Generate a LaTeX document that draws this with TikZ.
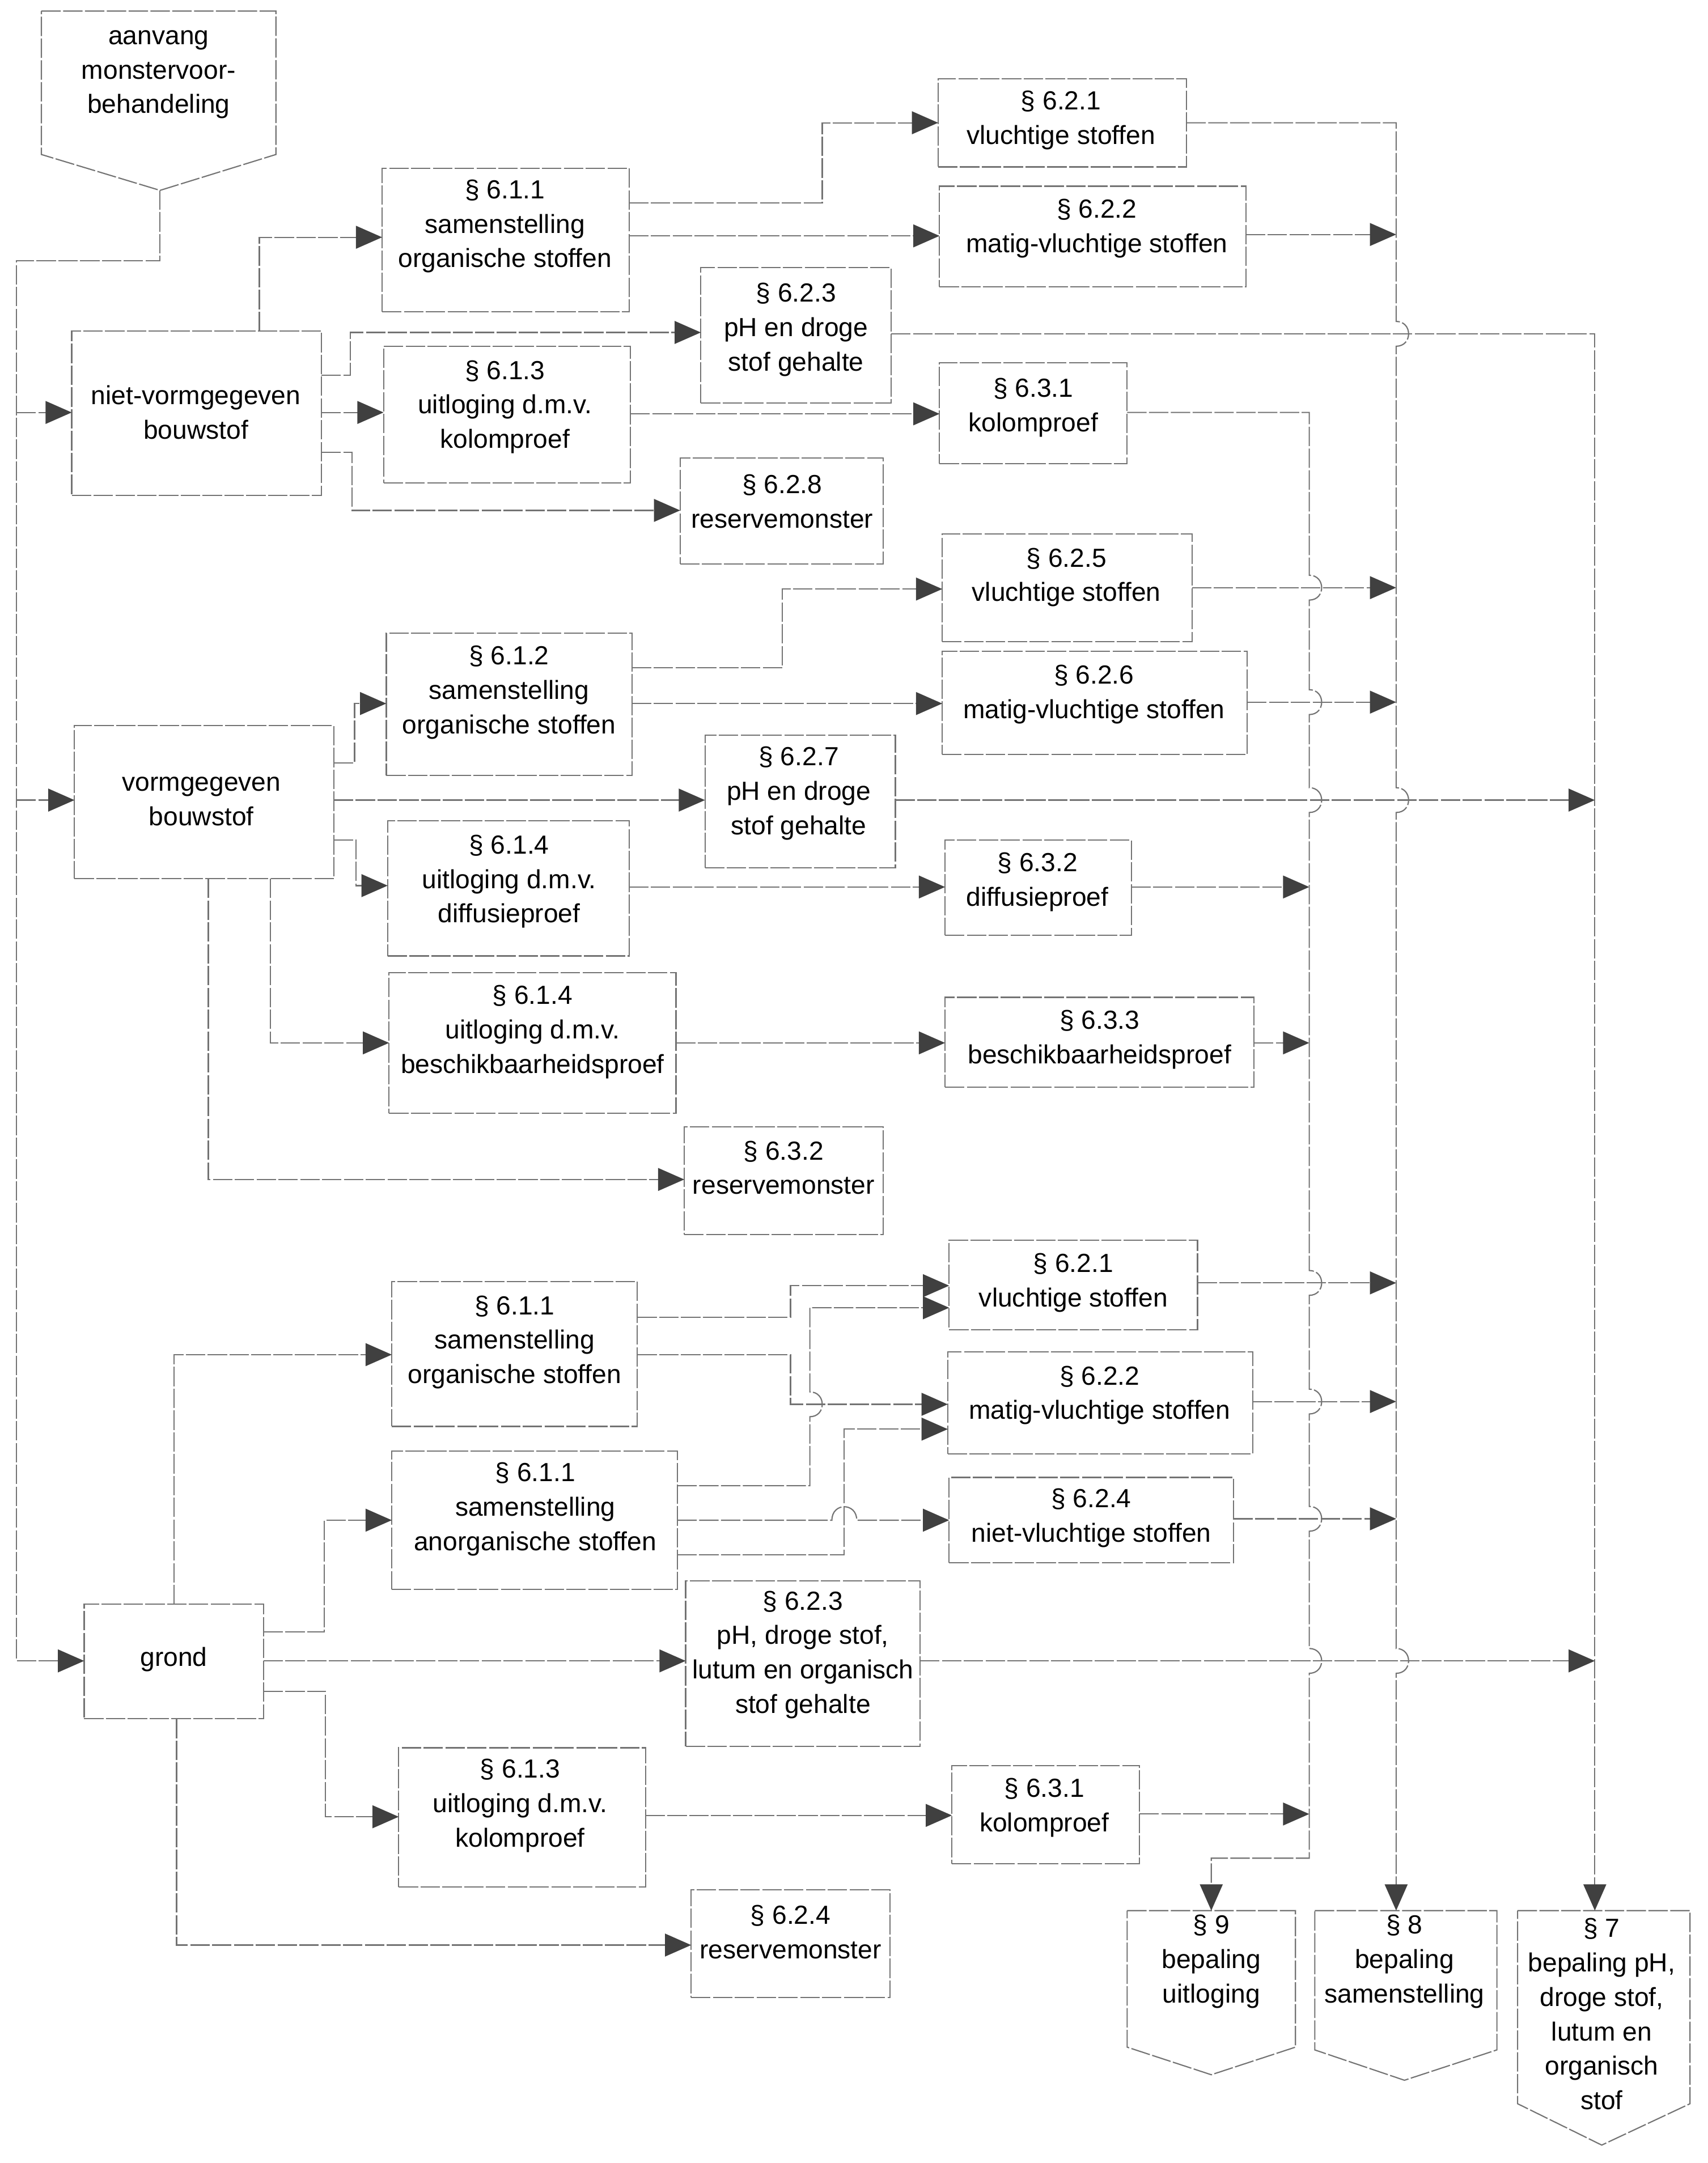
\documentclass[tikz,border=0pt]{standalone}
\usepackage{fontspec}
\setmainfont{Liberation Sans}
\usetikzlibrary{arrows.meta,fit}
\begin{document}
\begin{tikzpicture}[x=0.02cm,y=-0.02cm,
  ln/.style={draw=black!55, line width=0.5pt, dash pattern=on 8pt off 1pt},
  bx/.style={draw=black!55, line width=0.5pt, dash pattern=on 8pt off 1pt, inner sep=0pt, outer sep=0pt},
  txt/.style={align=center, font=\fontsize{10.8}{14.2}\selectfont, inner sep=0pt},
  arr/.style={ln, -{Triangle[length=0.38cm,width=0.33cm,color=black!75,fill=black!75]}},
]
\fill[white] (0,0) rectangle (1238,1568);
\useasboundingbox (0,0) rectangle (1238,1568);

% ---------- start and end pentagons ----------
\draw[bx] (30,8) -- (200,8) -- (200,112) -- (116,138) -- (30,112) -- cycle;
\node[txt] (tstart) at (115,54) {aanvang\\monstervoor-\\behandeling};
\coordinate (st) at (116,138);

\draw[bx] (817,1385) -- (939,1385) -- (939,1484) -- (878,1504) -- (817,1484) -- cycle;
\node[txt] (t9) at (878,1422) {§ 9\\bepaling\\uitloging};
\coordinate (p9) at (878,1385);

\draw[bx] (953,1385) -- (1085,1385) -- (1085,1486) -- (1018,1508) -- (953,1486) -- cycle;
\node[txt] (t8) at (1018,1422) {§ 8\\bepaling\\samenstelling};
\coordinate (p8) at (1012,1385);

\draw[bx] (1100,1385) -- (1225,1385) -- (1225,1525) -- (1161,1555) -- (1100,1525) -- cycle;
\node[txt] (t7) at (1161,1460) {§ 7\\bepaling pH,\\droge stof,\\lutum en\\organisch\\stof};
\coordinate (p7) at (1156,1385);

\coordinate (c9) at (949,0);
\coordinate (c8) at (1012,0);
\coordinate (c7) at (1156,0);

% ---------- top section ----------
\node[bx, fit={(52,240) (233,359)}] (A) {};
\node[txt] (tA) at (142,299) {niet-vormgegeven\\bouwstof};
\node[bx, fit={(277,122) (456,226)}] (b611a) {};
\node[txt] (t611a) at (366,164) {§ 6.1.1\\samenstelling\\organische stoffen};
\node[bx, fit={(278,251) (457,350)}] (b613a) {};
\node[txt] (t613a) at (366,295) {§ 6.1.3\\uitloging d.m.v.\\kolomproef};
\node[bx, fit={(680,57) (860,121)}] (b621a) {};
\node[txt] (t621a) at (769,87) {§ 6.2.1\\vluchtige stoffen};
\node[bx, fit={(681,135) (903,208)}] (b622a) {};
\node[txt] (t622a) at (795,165.5) {§ 6.2.2\\matig-vluchtige stoffen};
\node[bx, fit={(508,194) (646,292)}] (b623a) {};
\node[txt] (t623a) at (577,239) {§ 6.2.3\\pH en droge\\stof gehalte};
\node[bx, fit={(681,263) (817,336)}] (b631a) {};
\node[txt] (t631a) at (749,295.5) {§ 6.3.1\\kolomproef};
\node[bx, fit={(493,332) (640,409)}] (b628) {};
\node[txt] (t628) at (567,363.5) {§ 6.2.8\\reservemonster};

% ---------- middle section ----------
\node[bx, fit={(54,526) (242,637)}] (B) {};
\node[txt] (tB) at (146,581) {vormgegeven\\bouwstof};
\node[bx, fit={(280,459) (458,562)}] (b612) {};
\node[txt] (t612) at (369,502) {§ 6.1.2\\samenstelling\\organische stoffen};
\node[bx, fit={(683,387) (864,465)}] (b625) {};
\node[txt] (t625) at (773,418.5) {§ 6.2.5\\vluchtige stoffen};
\node[bx, fit={(683,472) (904,547)}] (b626) {};
\node[txt] (t626) at (793,503.5) {§ 6.2.6\\matig-vluchtige stoffen};
\node[bx, fit={(511,533) (649,629)}] (b627) {};
\node[txt] (t627) at (579,575) {§ 6.2.7\\pH en droge\\stof gehalte};
\node[bx, fit={(281,595) (456,693)}] (b614d) {};
\node[txt] (t614d) at (369,639) {§ 6.1.4\\uitloging d.m.v.\\diffusieproef};
\node[bx, fit={(685,609) (820,678)}] (b632d) {};
\node[txt] (t632d) at (752,639.5) {§ 6.3.2\\diffusieproef};
\node[bx, fit={(282,705) (490,807)}] (b614b) {};
\node[txt] (t614b) at (386,748) {§ 6.1.4\\uitloging d.m.v.\\beschikbaarheidsproef};
\node[bx, fit={(685,723) (909,788)}] (b633) {};
\node[txt] (t633) at (797,753.5) {§ 6.3.3\\beschikbaarheidsproef};
\node[bx, fit={(496,817) (640,895)}] (b632r) {};
\node[txt] (t632r) at (568,846.5) {§ 6.3.2\\reservemonster};

% ---------- bottom section ----------
\node[bx, fit={(61,1163) (191,1246)}] (C) {};
\node[txt] (tC) at (126,1203) {grond};
\node[bx, fit={(284,929) (462,1034)}] (b611g) {};
\node[txt] (t611g) at (373,973) {§ 6.1.1\\samenstelling\\organische stoffen};
\node[bx, fit={(284,1052) (491,1152)}] (b611an) {};
\node[txt] (t611an) at (388,1094) {§ 6.1.1\\samenstelling\\anorganische stoffen};
\node[bx, fit={(497,1146) (667,1266)}] (b623g) {};
\node[txt] (t623g) at (582,1199.5) {§ 6.2.3\\pH, droge stof,\\lutum en organisch\\stof gehalte};
\node[bx, fit={(289,1267) (468,1368)}] (b613g) {};
\node[txt] (t613g) at (377,1309) {§ 6.1.3\\uitloging d.m.v.\\kolomproef};
\node[bx, fit={(501,1370) (645,1448)}] (b624r) {};
\node[txt] (t624r) at (573,1400.5) {§ 6.2.4\\reservemonster};
\node[bx, fit={(688,899) (868,964)}] (b621g) {};
\node[txt] (t621g) at (778,930) {§ 6.2.1\\vluchtige stoffen};
\node[bx, fit={(687,980) (908,1054)}] (b622g) {};
\node[txt] (t622g) at (797,1011.5) {§ 6.2.2\\matig-vluchtige stoffen};
\node[bx, fit={(688,1071) (894,1133)}] (b624n) {};
\node[txt] (t624n) at (791,1100.5) {§ 6.2.4\\niet-vluchtige stoffen};
\node[bx, fit={(690,1280) (826,1351)}] (b631g) {};
\node[txt] (t631g) at (757,1310.5) {§ 6.3.1\\kolomproef};

% ---------- main feed ----------
\coordinate (m1) at (12,299);
\coordinate (m2) at (12,580);
\coordinate (m3) at (12,1204);
\draw[arr] (st) -- (116,189) -- (12,189) -- (m3) -- (C.west |- m3);
\draw[arr] (m1) -- (A.west |- m1);
\draw[arr] (m2) -- (B.west |- m2);

% ---------- top connectors ----------
\draw[arr] (A.north -| 188,0) |- (b611a.west |- 0,172);
\draw[arr] (A.east |- 0,272) -| (254,241) -- (b623a.west |- 0,241);
\draw[arr] (A.east |- 0,299) -- (b613a.west |- 0,299);
\draw[arr] (A.east |- 0,328) -| (255,370) -- (b628.west |- 0,370);
\draw[arr] (b611a.east |- 0,147) -| (596,89) -- (b621a.west |- 0,89);
\draw[arr] (b611a.east |- 0,171) -- (b622a.west |- 0,171);
\draw[arr] (b613a.east |- 0,300) -- (b631a.west |- 0,300);
\draw[arr] (b622a.east |- 0,170) -- (c8 |- 0,170);
\draw[arr] (b623a.east |- 0,242) -| (p7);

% ---------- middle connectors ----------
\draw[arr] (B.east |- 0,553) -| (257,510) -- (b612.west |- 0,510);
\draw[arr] (B.east |- 0,580) -- (b627.west |- 0,580);
\draw[arr] (B.east |- 0,609) -| (258,642) -- (b614d.west |- 0,642);
\draw[arr] (B.south -| 196,0) |- (b614b.west |- 0,756);
\draw[arr] (B.south -| 151,0) |- (b632r.west |- 0,855);
\draw[arr] (b612.east |- 0,484) -| (567,427) -- (b625.west |- 0,427);
\draw[arr] (b612.east |- 0,510) -- (b626.west |- 0,510);
\draw[arr] (b614d.east |- 0,643) -- (b632d.west |- 0,643);
\draw[arr] (b614b.east |- 0,756) -- (b633.west |- 0,756);
\draw[arr] (b625.east |- 0,426) -- (c8 |- 0,426);
\draw[arr] (b626.east |- 0,509) -- (c8 |- 0,509);
\draw[arr] (b627.east |- 0,580) -- (c7 |- 0,580);
\draw[arr] (b632d.east |- 0,643) -- (c9 |- 0,643);
\draw[arr] (b633.east |- 0,756) -- (c9 |- 0,756);

% ---------- bottom connectors ----------
\draw[arr] (C.north -| 126,0) |- (b611g.west |- 0,982);
\draw[arr] (C.east |- 0,1183) -| (235,1102) -- (b611an.west |- 0,1102);
\draw[arr] (C.east |- 0,1204) -- (b623g.west |- 0,1204);
\draw[arr] (C.east |- 0,1226) -| (236,1317) -- (b613g.west |- 0,1317);
\draw[arr] (C.south -| 128,0) |- (b624r.west |- 0,1410);
\draw[arr] (b611g.east |- 0,955) -| (573,932) -- (b621g.west |- 0,932);
\draw[arr] (b611g.east |- 0,982) -| (573,1018) -- (b622g.west |- 0,1018);
\draw[arr] (b611an.east |- 0,1077) -- (587,1077) -- (587,1027)
   .. controls (599,1027) and (599,1009) .. (587,1009) -- (587,948) -- (b621g.west |- 0,948);
\draw[arr] (b611an.east |- 0,1102) -- (603,1102)
   .. controls (603,1089) and (621,1089) .. (621,1102) -- (b624n.west |- 0,1102);
\draw[arr] (b611an.east |- 0,1127) -| (612,1036) -- (b622g.west |- 0,1036);
\draw[arr] (b621g.east |- 0,930) -- (c8 |- 0,930);
\draw[arr] (b622g.east |- 0,1016) -- (c8 |- 0,1016);
\draw[arr] (b624n.east |- 0,1101) -- (c8 |- 0,1101);
\draw[arr] (b623g.east |- 0,1204) -- (c7 |- 0,1204);
\draw[arr] (b613g.east |- 0,1316) -- (b631g.west |- 0,1316);
\draw[arr] (b631g.east |- 0,1315) -- (c9 |- 0,1315);

% ---------- collectors ----------
\draw[arr] (b631a.east |- 0,299) -- (949,299)
  -- (949,417) .. controls (961,417) and (961,435) .. (949,435)
  -- (949,500) .. controls (961,500) and (961,518) .. (949,518)
  -- (949,571) .. controls (961,571) and (961,589) .. (949,589)
  -- (949,921) .. controls (961,921) and (961,939) .. (949,939)
  -- (949,1007) .. controls (961,1007) and (961,1025) .. (949,1025)
  -- (949,1092) .. controls (961,1092) and (961,1110) .. (949,1110)
  -- (949,1195) .. controls (961,1195) and (961,1213) .. (949,1213)
  -- (949,1347) -- (878,1347) -- (p9);
\draw[arr] (b621a.east |- 0,89) -- (1012,89)
  -- (1012,233) .. controls (1024,233) and (1024,251) .. (1012,251)
  -- (1012,571) .. controls (1024,571) and (1024,589) .. (1012,589)
  -- (1012,1195) .. controls (1024,1195) and (1024,1213) .. (1012,1213)
  -- (p8);
\end{tikzpicture}
\end{document}
